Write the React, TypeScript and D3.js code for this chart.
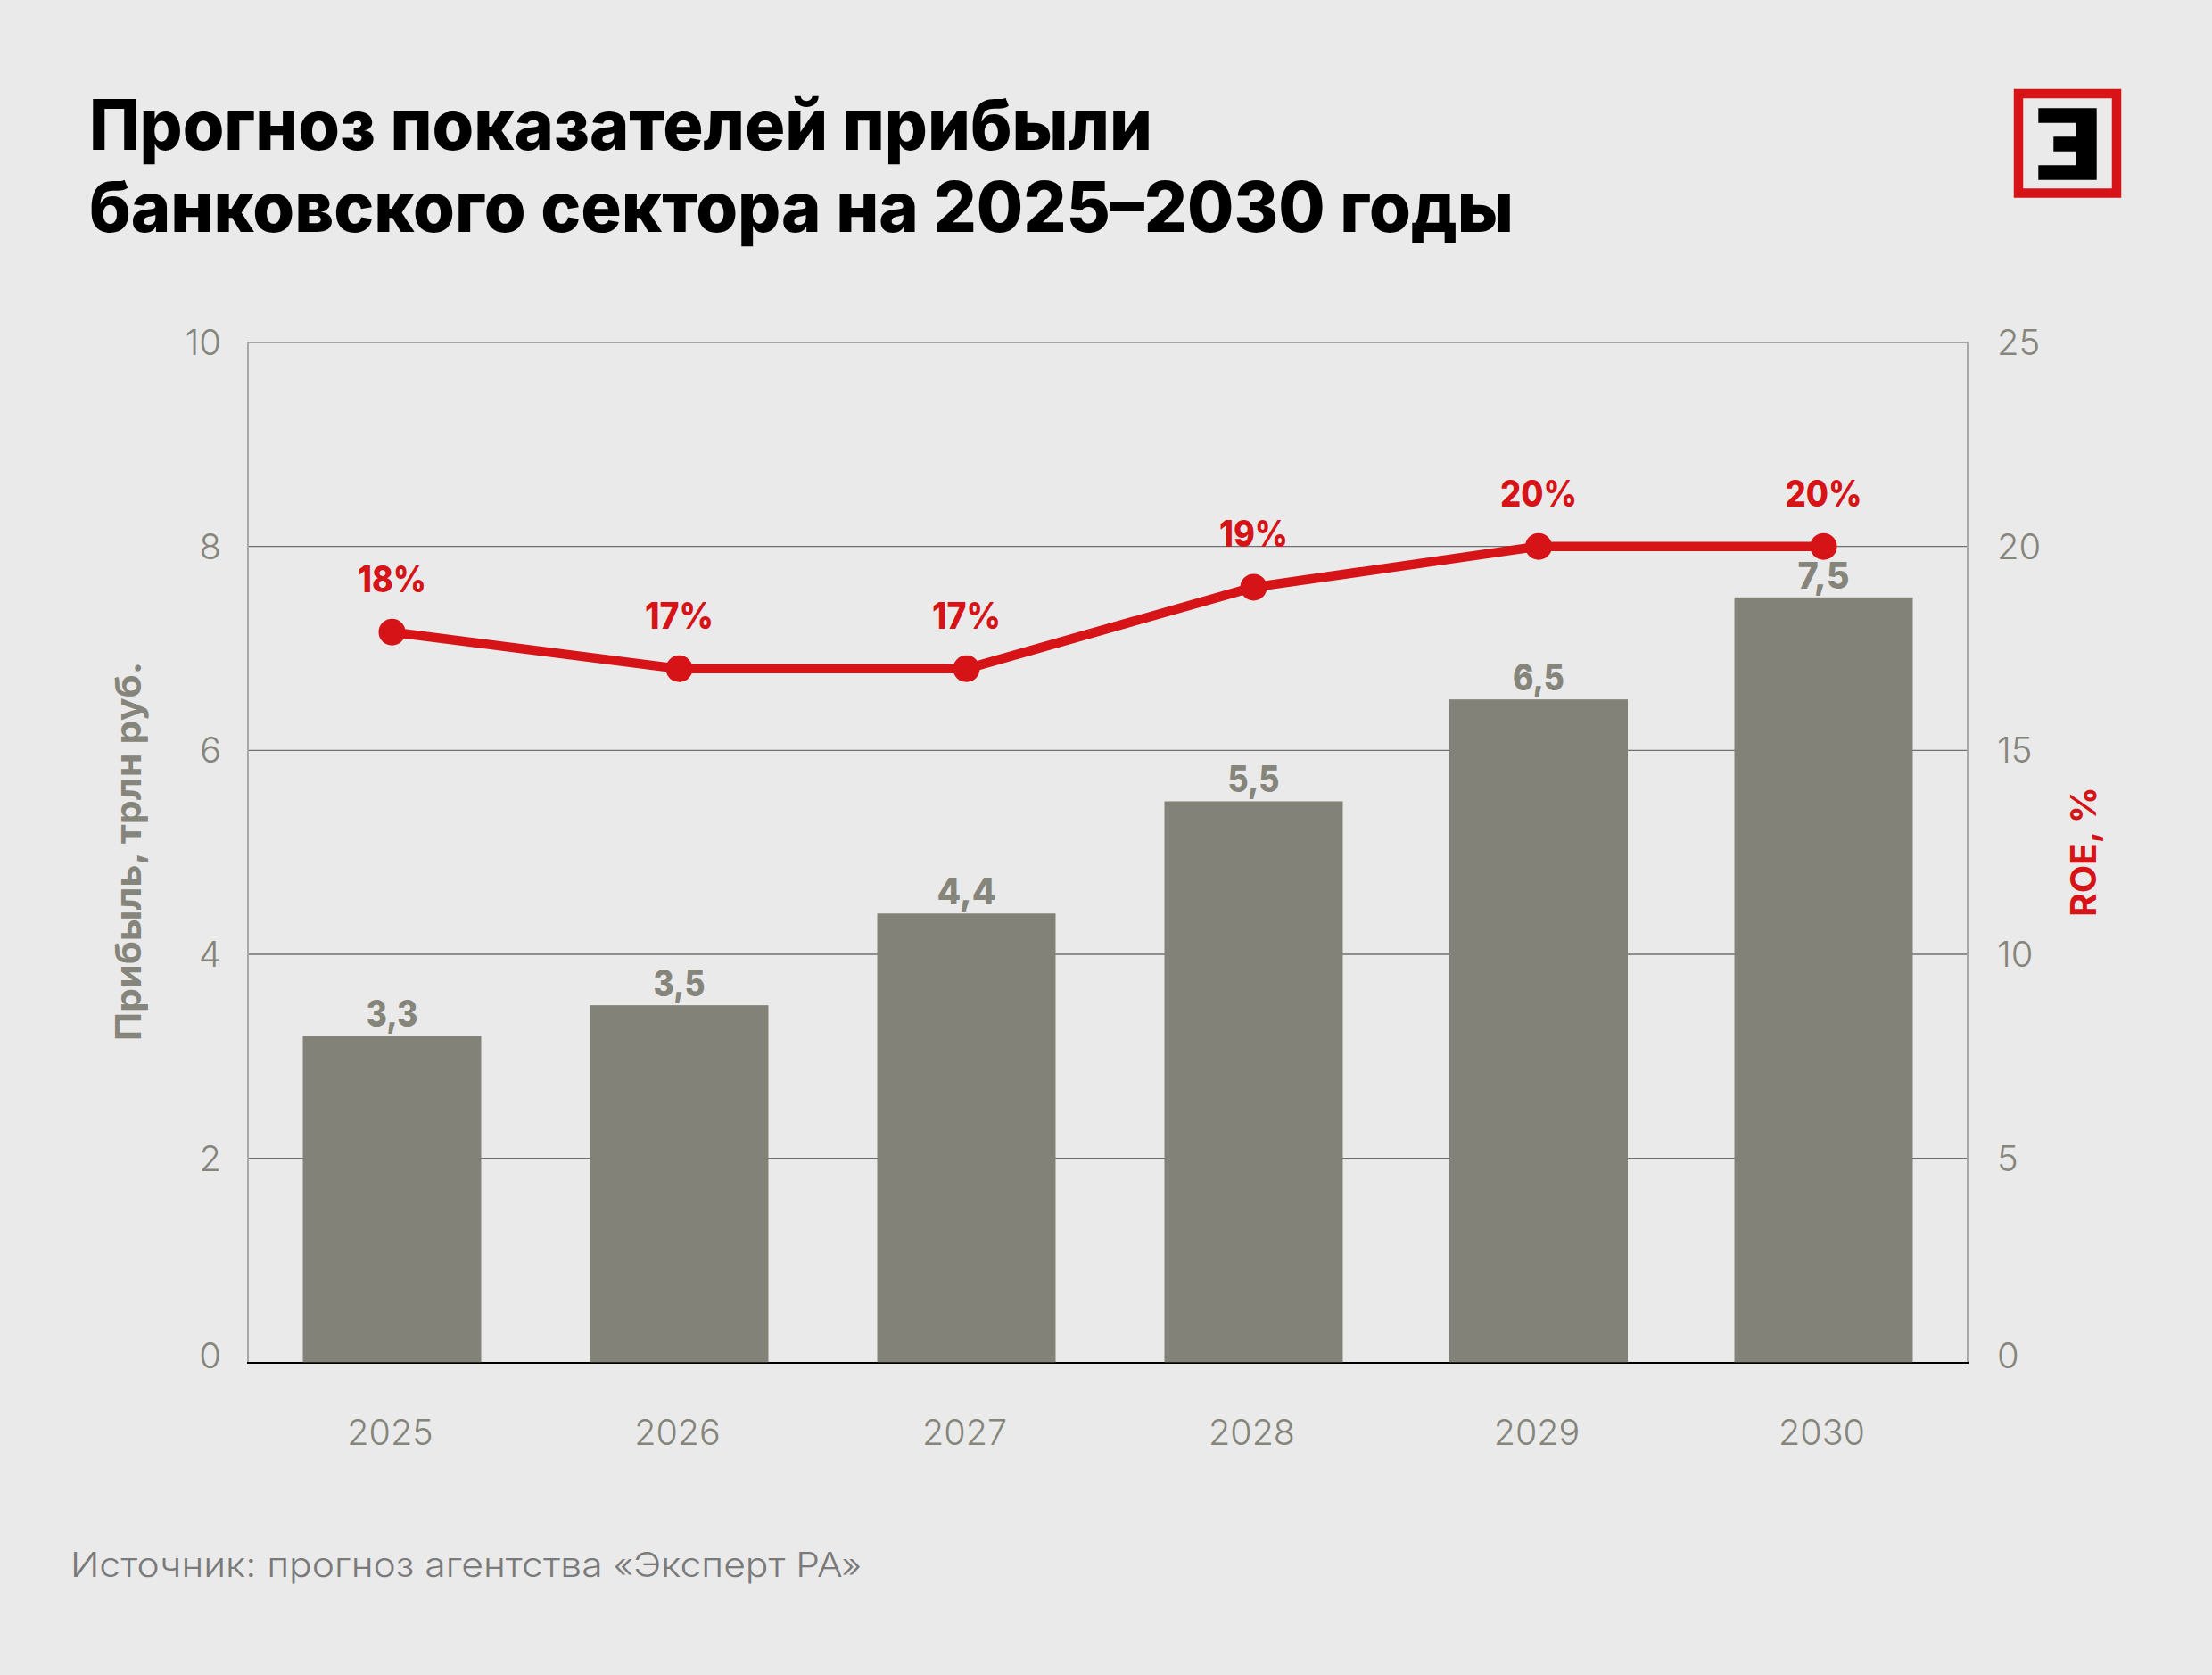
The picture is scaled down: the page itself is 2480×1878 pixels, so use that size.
// Bank sector profit forecast, bars + ROE line on a second axis
import React, { useEffect, useRef } from 'react';
import * as d3 from 'd3';

const width = 2480;
const height = 1878;

const titleLines = ['Прогноз показателей прибыли', 'банковского сектора на 2025–2030 годы'];
const sourceText = 'Источник: прогноз агентства «Эксперт РА»';

const years = [2025, 2026, 2027, 2028, 2029, 2030];
// bar heights as drawn; the first bar is a bit shorter than its 3,3 label
const profitValues = [3.2, 3.5, 4.4, 5.5, 6.5, 7.5];
const profitLabels = ['3,3', '3,5', '4,4', '5,5', '6,5', '7,5'];
const roeValues = [17.9, 17, 17, 19, 20, 20];
const roeLabels = ['18%', '17%', '17%', '19%', '20%', '20%'];

const profitTicks = [0, 2, 4, 6, 8, 10];
const roeTicks = [0, 5, 10, 15, 20, 25];

const FONT = 'Inter, "Noto Sans", sans-serif';
const GREY = '#85857b';
const BAR = '#838278';
const RED = '#d61317';

const App: React.FC = () => {
  const svgRef = useRef<SVGSVGElement>(null);

  useEffect(() => {
    if (!svgRef.current) return;

    const svg = d3.select(svgRef.current);
    svg.selectAll('*').remove();
    svg.style('font-family', FONT);

    const left = 278;
    const right = 2206;
    const top = 384;
    const bottom = 1527.3;
    const barWidth = 200;

    // columns in the source are not perfectly even, hence the middle stop
    const x = d3.scaleLinear().domain([2025, 2028, 2030]).range([439.5, 1405.5, 2044.5]);
    const y = d3.scaleLinear().domain([0, 10]).range([bottom, top]);
    const yRoe = d3.scaleLinear().domain([0, 25]).range([bottom, top]);

    svg.append('rect').attr('width', width).attr('height', height).attr('fill', '#eaeaea');

    // Title
    titleLines.forEach((line, i) => {
      svg.append('text')
        .attr('x', 100)
        .attr('y', 168 + i * 92)
        .attr('font-size', 78)
        .attr('font-weight', 800)
        .attr('fill', '#000')
        .attr('textLength', i === 0 ? 1192 : 1597)
        .attr('lengthAdjust', 'spacingAndGlyphs')
        .text(line);
    });

    // Logo
    const logo = svg.append('g');
    logo.append('rect')
      .attr('x', 2263).attr('y', 105).attr('width', 110).attr('height', 111.5)
      .attr('fill', 'none').attr('stroke', RED).attr('stroke-width', 10.5);
    logo.append('path')
      .attr('d', 'M2285.3 121.3H2350.7V201.7H2285.3V185.3H2327.7V169.7H2302.3V153.3H2327.7V137.7H2285.3Z')
      .attr('fill', '#000');

    // Gridlines
    const grid = svg.append('g').attr('transform', `translate(${left},0)`);
    grid.call(
      d3.axisLeft(y)
        .tickValues(profitTicks.filter(t => t > 0))
        .tickSize(-(right - left))
        .tickFormat(() => '')
        .offset(0)
    );
    grid.select('.domain').remove();
    grid.selectAll('.tick line')
      .attr('stroke', d => (d === 10 ? '#a6a6a6' : '#6f6f6f'))
      .attr('stroke-width', d => (d === 10 ? 2 : 1.3));

    // Frame sides
    [left, right].forEach(px => {
      svg.append('line')
        .attr('x1', px).attr('x2', px).attr('y1', top - 1).attr('y2', bottom)
        .attr('stroke', '#a8a8a8').attr('stroke-width', 2);
    });

    // Baseline sits under the bars
    svg.append('line')
      .attr('x1', left - 1).attr('x2', right + 1).attr('y1', 1528).attr('y2', 1528)
      .attr('stroke', '#000').attr('stroke-width', 2);

    // Bars
    svg.append('g')
      .selectAll('rect')
      .data(years)
      .enter()
      .append('rect')
      .attr('x', d => x(d) - barWidth / 2)
      .attr('y', (_, i) => y(profitValues[i]))
      .attr('width', barWidth)
      .attr('height', (_, i) => bottom - y(profitValues[i]))
      .attr('fill', BAR);

    // Bar labels
    svg.append('g')
      .selectAll('text')
      .data(years)
      .enter()
      .append('text')
      .attr('x', d => x(d))
      .attr('y', (_, i) => y(profitValues[i]) - 10)
      .attr('text-anchor', 'middle')
      .attr('font-size', 41)
      .attr('font-weight', 800)
      .attr('fill', GREY)
      .attr('textLength', (_, i) => (profitLabels[i] === '4,4' ? 66 : 58))
      .attr('lengthAdjust', 'spacingAndGlyphs')
      .text((_, i) => profitLabels[i]);

    // ROE line
    const line = d3.line<number>()
      .x(d => x(d))
      .y((_, i) => yRoe(roeValues[i]));

    svg.append('path')
      .datum(years)
      .attr('d', line)
      .attr('fill', 'none')
      .attr('stroke', RED)
      .attr('stroke-width', 10.5)
      .attr('stroke-linejoin', 'round');

    svg.append('g')
      .selectAll('circle')
      .data(years)
      .enter()
      .append('circle')
      .attr('cx', d => x(d))
      .attr('cy', (_, i) => yRoe(roeValues[i]))
      .attr('r', 15)
      .attr('fill', RED);

    svg.append('g')
      .selectAll('text')
      .data(years)
      .enter()
      .append('text')
      .attr('x', d => x(d))
      .attr('y', (_, i) => yRoe(roeValues[i]) - 45)
      .attr('text-anchor', 'middle')
      .attr('font-size', 41)
      .attr('font-weight', 800)
      .attr('fill', RED)
      .attr('textLength', (_, i) => (roeLabels[i] === '20%' ? 86 : 77))
      .attr('lengthAdjust', 'spacingAndGlyphs')
      .text((_, i) => roeLabels[i]);

    // Axes
    const styleTicks = (g: d3.Selection<SVGGElement, unknown, null, undefined>) => {
      g.select('.domain').remove();
      g.selectAll('.tick line').remove();
      g.selectAll('.tick text')
        .attr('fill', GREY)
        .attr('font-size', 40)
        .attr('font-weight', 300)
        .attr('dy', '0.35em')
        .style('font-family', FONT);
      // the zero labels sit a little above the baseline
      g.selectAll('.tick text').filter(d => d === 0).attr('dy', '0.16em');
    };

    const leftAxis = svg.append('g').attr('transform', `translate(${left},0)`);
    leftAxis.call(d3.axisLeft(y).tickValues(profitTicks).tickSize(0).tickPadding(30).offset(0));
    styleTicks(leftAxis);

    const rightAxis = svg.append('g').attr('transform', `translate(${right},0)`);
    rightAxis.call(d3.axisRight(yRoe).tickValues(roeTicks).tickSize(0).tickPadding(33).offset(0));
    styleTicks(rightAxis);

    const bottomAxis = svg.append('g').attr('transform', `translate(0,${bottom})`);
    bottomAxis.call(
      d3.axisBottom(x).tickValues(years).tickFormat(d => String(d)).tickSize(0).offset(0)
    );
    bottomAxis.select('.domain').remove();
    bottomAxis.selectAll('.tick text')
      .attr('fill', GREY)
      .attr('font-size', 39.5)
      .attr('font-weight', 300)
      .style('font-family', FONT)
      .attr('dy', null)
      .attr('y', 93)
      .attr('x', -2);

    // Axis titles
    svg.append('text')
      .attr('transform', 'translate(158,1167) rotate(-90)')
      .attr('font-size', 40)
      .attr('font-weight', 700)
      .attr('fill', GREY)
      .attr('textLength', 425)
      .attr('lengthAdjust', 'spacingAndGlyphs')
      .text('Прибыль, трлн руб.');

    svg.append('text')
      .attr('transform', 'translate(2350,1028) rotate(-90)')
      .attr('font-size', 40)
      .attr('font-weight', 700)
      .attr('fill', RED)
      .attr('textLength', 146)
      .attr('lengthAdjust', 'spacingAndGlyphs')
      .text('ROE, %');

    // Source
    svg.append('text')
      .attr('x', 79)
      .attr('y', 1768)
      .attr('font-size', 38)
      .attr('font-weight', 300)
      .attr('fill', '#7a7a7a')
      .attr('textLength', 887)
      .attr('lengthAdjust', 'spacingAndGlyphs')
      .text(sourceText);
  }, []);

  return (
    <svg
      ref={svgRef}
      width={width}
      height={height}
      style={{ display: 'block', position: 'absolute', left: 0, top: 0 }}
    />
  );
};

export default App;
